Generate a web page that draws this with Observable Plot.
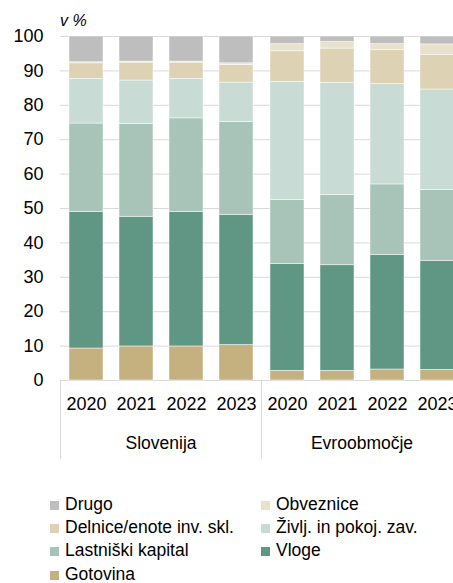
<!DOCTYPE html>
<html>
<head>
<meta charset="utf-8">
<script src="https://cdn.jsdelivr.net/npm/d3@7"></script>
<script src="https://cdn.jsdelivr.net/npm/@observablehq/plot@0.6"></script>
<style>
  html, body { margin: 0; padding: 0; background: #fff; overflow: hidden; }
  body { font-family: "Liberation Sans", Arial, sans-serif; color: #000; }
  #wrap { position: relative; width: 453px; height: 583px; overflow: hidden; }
  #chart { position: absolute; left: 0; top: 0; }
  #unit { position: absolute; left: 60px; top: 13px; font-size: 16px; line-height: 16px; font-style: italic; }
  .lg { position: absolute; height: 24px; font-size: 17.5px; line-height: 24px; white-space: nowrap; }
  .lg .sw { position: absolute; left: 0; top: 9px; width: 9px; height: 9px; }
  .lg .tx { position: absolute; left: 15px; top: 0; }
</style>
</head>
<body>
<div id="wrap">
  <div id="chart"></div>
  <div id="unit">v %</div>
  <div id="legend"></div>
</div>
<script>
// Regions and years (x categories)
const regions = ["Slovenija", "Evroobmočje"];
const years = ["2020", "2021", "2022", "2023"];

// Stack order, bottom to top
const categories = [
  "Gotovina",
  "Vloge",
  "Lastniški kapital",
  "Življ. in pokoj. zav.",
  "Delnice/enote inv. skl.",
  "Obveznice",
  "Drugo"
];
const colors = ["#c5b17f", "#609684", "#a8c4b9", "#c8dcd5", "#ddd2b3", "#e8e1cd", "#bebebe"];

// Values (%): Slovenija 2020–2023, then Evroobmočje 2020–2023
const gotovina  = [9.3, 9.9, 9.9, 10.3, 2.8, 2.8, 3.2, 3.1];
const vloge     = [39.7, 37.7, 39.1, 37.8, 31.1, 30.7, 33.3, 31.7];
const lastniski = [25.7, 27.0, 27.2, 27.1, 18.6, 20.4, 20.5, 20.6];
const zivljenje = [13.0, 12.6, 11.5, 11.4, 34.3, 32.6, 29.2, 29.2];
const delnice   = [4.5, 5.2, 4.7, 5.1, 8.9, 10.0, 9.8, 10.0];
const obveznice = [0.3, 0.3, 0.3, 0.5, 2.1, 1.9, 1.8, 3.1];
const drugo     = [7.5, 7.3, 7.3, 7.8, 2.2, 1.6, 2.2, 2.3];

const yTicks = [0, 10, 20, 30, 40, 50, 60, 70, 80, 90, 100];

// Legend order (two columns, row-major)
const legendOrder = [
  "Drugo", "Obveznice",
  "Delnice/enote inv. skl.", "Življ. in pokoj. zav.",
  "Lastniški kapital", "Vloge",
  "Gotovina"
];

const series = [gotovina, vloge, lastniski, zivljenje, delnice, obveznice, drugo];
const data = [];
regions.forEach((r, ri) => {
  years.forEach((yr, yi) => {
    categories.forEach((c, ci) => {
      data.push({region: r, year: yr, category: c, value: series[ci][ri * 4 + yi]});
    });
  });
});

const chart = Plot.plot({
  width: 462,
  height: 470,
  marginLeft: 59,
  marginRight: 0,
  marginTop: 36,
  marginBottom: 90,
  style: {
    fontFamily: '"Liberation Sans", Arial, sans-serif',
    fontSize: "17px",
    color: "#000",
    background: "transparent",
    maxWidth: "none",
    overflow: "visible"
  },
  fx: {domain: regions, padding: 0, axis: null},
  x: {domain: years, paddingInner: 0.32, paddingOuter: 0.16},
  y: {domain: [0, 100]},
  color: {domain: categories, range: colors},
  marks: [
    Plot.gridY(yTicks, {stroke: "#d9d9d9", strokeOpacity: 1, strokeWidth: 1}),
    Plot.barY(data, {
      fx: "region", x: "year", y: "value", fill: "category",
      order: categories, stroke: "#fff", strokeWidth: 0.6, strokeOpacity: 0.8
    }),
    Plot.axisY(yTicks, {tickSize: 0, tickPadding: 17, label: null, fontSize: 18}),
    Plot.axisX({tickSize: 0, tickPadding: 17, label: null, fontSize: 18}),
    Plot.text(regions, {fx: d => d, text: d => d, frameAnchor: "bottom", lineAnchor: "top", dy: 56, fontSize: 17.5}),
    Plot.frame({anchor: "left", stroke: "#d9d9d9", strokeOpacity: 1, insetTop: 344, insetBottom: -78})
  ]
});
document.getElementById("chart").appendChild(chart);

// Legend
const legend = document.getElementById("legend");
const colorOf = Object.fromEntries(categories.map((c, i) => [c, colors[i]]));
legendOrder.forEach((c, i) => {
  const row = Math.floor(i / 2), col = i % 2;
  const el = document.createElement("div");
  el.className = "lg";
  el.style.left = (col === 0 ? 50 : 261) + "px";
  el.style.top = (491.5 + row * 23.4) + "px";
  el.innerHTML = `<span class="sw" style="background:${colorOf[c]}"></span><span class="tx">${c}</span>`;
  legend.appendChild(el);
});
</script>
</body>
</html>
